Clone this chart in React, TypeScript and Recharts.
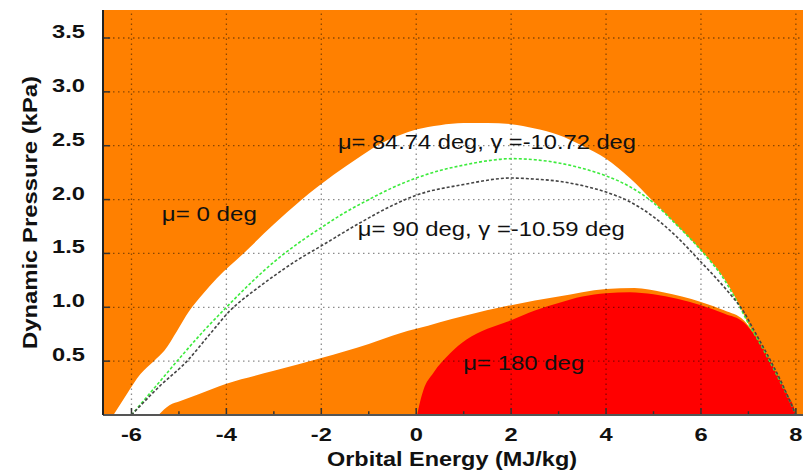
import React from 'react';
import { ComposedChart, Area, Line, XAxis, YAxis, CartesianGrid, ReferenceLine, ReferenceDot } from 'recharts';

const xTicks = [-6, -4, -2, 0, 2, 4, 6, 8];
const xMinorTicks = [-5, -3, -1, 1, 3, 5, 7];
const yTicks = [0.5, 1.0, 1.5, 2.0, 2.5, 3.0, 3.5];

// outer edge of the white (reachable) region
const envelopeX = [-6.38, -6.09, -5.81, -5.53, -5.3, -5.04, -4.79, -4.5, -4.2, -3.64, -3.0, -2.44, -1.74, -1.18, -0.83, -0.34, 0, 0.5, 1.0, 1.5, 2.0, 2.5, 3.0, 3.5, 4.0, 4.5, 5.0, 5.5, 6.0, 6.5, 6.75, 6.96, 7.1, 7.4, 7.67, 7.85, 7.96, 8.0];
const envelopeY = [0, 0.2, 0.38, 0.5, 0.6, 0.78, 0.96, 1.12, 1.27, 1.5, 1.77, 1.99, 2.23, 2.4, 2.5, 2.6, 2.65, 2.69, 2.71, 2.71, 2.7, 2.66, 2.6, 2.5, 2.38, 2.2, 1.98, 1.76, 1.53, 1.26, 1.07, 0.88, 0.76, 0.55, 0.32, 0.17, 0.07, 0];

// lower orange band
const lowerX = [-5.43, -5.2, -4.97, -4.6, -4.0, -3.0, -2.0, -1.0, -0.34, 0, 1.0, 2.0, 3.0, 4.0, 4.6, 5.2, 6.0, 6.5, 6.9, 7.1, 7.4, 7.67, 7.85, 7.96, 8.0];
const lowerY = [0, 0.09, 0.13, 0.19, 0.29, 0.41, 0.53, 0.66, 0.76, 0.8, 0.92, 1.02, 1.1, 1.17, 1.18, 1.14, 1.05, 0.97, 0.88, 0.77, 0.56, 0.33, 0.18, 0.08, 0];

// mu = 180 deg region
const redX = [0.02, 0.08, 0.15, 0.36, 0.71, 1.06, 1.5, 2.0, 2.5, 3.0, 3.5, 4.0, 4.5, 5.0, 5.5, 6.0, 6.5, 6.9, 7.1, 7.4, 7.67, 7.85, 7.96, 8.0];
const redY = [0, 0.12, 0.23, 0.39, 0.57, 0.7, 0.8, 0.88, 0.97, 1.04, 1.1, 1.13, 1.14, 1.12, 1.08, 1.02, 0.94, 0.86, 0.76, 0.55, 0.32, 0.17, 0.07, 0];

// mu = 84.74 deg, gamma = -10.72 deg
const greenX = [-6, -5.5, -5.0, -4.5, -4.0, -3.5, -3.0, -2.5, -2.0, -1.5, -1.0, -0.5, 0, 0.5, 1.0, 1.5, 2.0, 2.5, 3.0, 3.5, 4.0, 4.5, 5.0, 5.5, 6.0, 6.5, 6.75, 7.0, 7.3, 7.6, 7.85, 8.0];
const greenY = [0, 0.26, 0.52, 0.77, 1.0, 1.22, 1.42, 1.59, 1.74, 1.88, 2.0, 2.11, 2.2, 2.27, 2.32, 2.36, 2.38, 2.37, 2.34, 2.29, 2.22, 2.12, 1.97, 1.76, 1.53, 1.25, 1.06, 0.85, 0.62, 0.37, 0.15, 0];

// mu = 90 deg, gamma = -10.59 deg
const blackX = [-6, -5.4, -4.83, -4.35, -3.92, -3.4, -3.0, -2.5, -2.0, -1.2, -0.48, 0, 1.0, 2.0, 2.5, 3.0, 3.5, 4.0, 4.5, 5.0, 5.5, 6.0, 6.3, 6.6, 6.9, 7.1, 7.4, 7.7, 8.0];
const blackY = [0, 0.27, 0.5, 0.75, 0.97, 1.16, 1.29, 1.44, 1.57, 1.78, 1.95, 2.04, 2.14, 2.2, 2.19, 2.17, 2.13, 2.07, 1.98, 1.84, 1.65, 1.42, 1.28, 1.13, 0.96, 0.8, 0.56, 0.3, 0];

const notes = [
  { text: 'μ= 84.74 deg, γ =-10.72 deg', x: -1.65, y: 2.47, len: 298 },
  { text: 'μ= 90 deg, γ =-10.59 deg', x: -1.23, y: 1.66, len: 267 },
  { text: 'μ= 0 deg', x: -5.36, y: 1.8, len: 95 },
  { text: 'μ= 180 deg', x: 0.99, y: 0.42, len: 121 },
];

const toPoints = (xs: number[], ys: number[]) => xs.map((x, i) => ({ x, y: ys[i] }));

const FONT = '"Liberation Sans", Arial, Helvetica, sans-serif';
const ORANGE = '#FF8000';
const GRID = 'rgba(0,0,0,0.45)';

const XTick = (props: any) => {
  const { x, y, payload } = props;
  return (
    <text x={0} y={0} transform={`translate(${x},${y + 26}) scale(1.28,1)`} textAnchor="middle"
      fontFamily={FONT} fontWeight="bold" fontSize={18.5} fill="#111">
      {payload.value}
    </text>
  );
};

const YTick = (props: any) => {
  const { x, y, payload } = props;
  return (
    <text x={0} y={0} transform={`translate(${x},${y}) scale(1.28,1)`} textAnchor="end"
      fontFamily={FONT} fontWeight="bold" fontSize={18.5} fill="#111">
      {Number(payload.value).toFixed(1)}
    </text>
  );
};

const App: React.FC = () => {
  return (
    <div style={{ position: 'absolute', left: 0, top: 0, width: 803, height: 472, background: '#fff' }}>
      <ComposedChart width={803} height={472} margin={{ top: 10, right: 0, bottom: 0, left: 0 }}>
        <CartesianGrid horizontal={false} vertical={false} fill={ORANGE} fillOpacity={1} />
        <XAxis
          dataKey="x"
          type="number"
          domain={[-6.6, 8.15]}
          ticks={xTicks}
          allowDataOverflow
          height={57}
          tickSize={0}
          tickMargin={0}
          tickLine={false}
          axisLine={{ stroke: '#555', strokeWidth: 2 }}
          tick={<XTick />}
          label={{
            content: (p: any) => {
              const vb = p.viewBox;
              return (
                <text x={vb.x + vb.width / 2 - 1} y={vb.y + 51} textAnchor="middle" fontFamily={FONT}
                  fontWeight="bold" fontSize={20} fill="#111" textLength={250} lengthAdjust="spacingAndGlyphs">
                  Orbital Energy (MJ/kg)
                </text>
              );
            },
          }}
        />
        <YAxis
          type="number"
          domain={[0, 3.76]}
          ticks={yTicks}
          allowDataOverflow
          width={103}
          tickSize={0}
          tickMargin={18}
          tickLine={false}
          axisLine={{ stroke: '#222', strokeWidth: 2 }}
          tick={<YTick />}
          label={{
            content: (p: any) => {
              const vb = p.viewBox;
              const cy = vb.y + vb.height / 2;
              return (
                <text x={0} y={0} transform={`translate(37,${cy}) rotate(-90)`} textAnchor="middle"
                  fontFamily={FONT} fontWeight="bold" fontSize={21} fill="#111"
                  textLength={273} lengthAdjust="spacingAndGlyphs">
                  Dynamic Pressure (kPa)
                </text>
              );
            },
          }}
        />
        <Area data={toPoints(envelopeX, envelopeY)} dataKey="y" type="monotone" stroke="none"
          fill="#FFFFFF" fillOpacity={1} isAnimationActive={false} />
        <Area data={toPoints(lowerX, lowerY)} dataKey="y" type="monotone" stroke="none"
          fill={ORANGE} fillOpacity={1} isAnimationActive={false} />
        <Area data={toPoints(redX, redY)} dataKey="y" type="monotone" stroke="none"
          fill="#FF0000" fillOpacity={1} isAnimationActive={false} />

        {xTicks.map(v => (
          <ReferenceLine key={`gx${v}`} x={v} stroke={GRID} strokeWidth={1.3} strokeDasharray="1.5 3.5" />
        ))}
        {yTicks.map(v => (
          <ReferenceLine key={`gy${v}`} y={v} stroke={GRID} strokeWidth={1.3} strokeDasharray="1.5 3.5" />
        ))}
        {xTicks.map(v => (
          <ReferenceLine key={`tx${v}`} segment={[{ x: v, y: 0 }, { x: v, y: 0.065 }]} stroke="#333" strokeWidth={1.5} />
        ))}
        {xMinorTicks.map(v => (
          <ReferenceLine key={`mx${v}`} segment={[{ x: v, y: 0 }, { x: v, y: 0.035 }]} stroke="#333" strokeWidth={1.5} />
        ))}
        {yTicks.map(v => (
          <ReferenceLine key={`ty${v}`} segment={[{ x: -6.6, y: v }, { x: -6.45, y: v }]} stroke="#333" strokeWidth={1.5} />
        ))}

        <Line data={toPoints(greenX, greenY)} dataKey="y" type="monotone" stroke="#3DEB3D" strokeWidth={1.6}
          strokeDasharray="3 2" dot={false} activeDot={false} isAnimationActive={false} />
        <Line data={toPoints(blackX, blackY)} dataKey="y" type="monotone" stroke="#444" strokeWidth={1.6}
          strokeDasharray="3 2" dot={false} activeDot={false} isAnimationActive={false} />

        {notes.map(n => (
          <ReferenceDot key={n.text} x={n.x} y={n.y} r={0} fill="none" stroke="none"
            label={{
              content: (p: any) => (
                <text x={p.viewBox.x} y={p.viewBox.y} fontFamily={FONT} fontSize={20} fill="#111"
                  textLength={n.len} lengthAdjust="spacingAndGlyphs">
                  {n.text}
                </text>
              ),
            }}
          />
        ))}
      </ComposedChart>
    </div>
  );
};

export default App;
